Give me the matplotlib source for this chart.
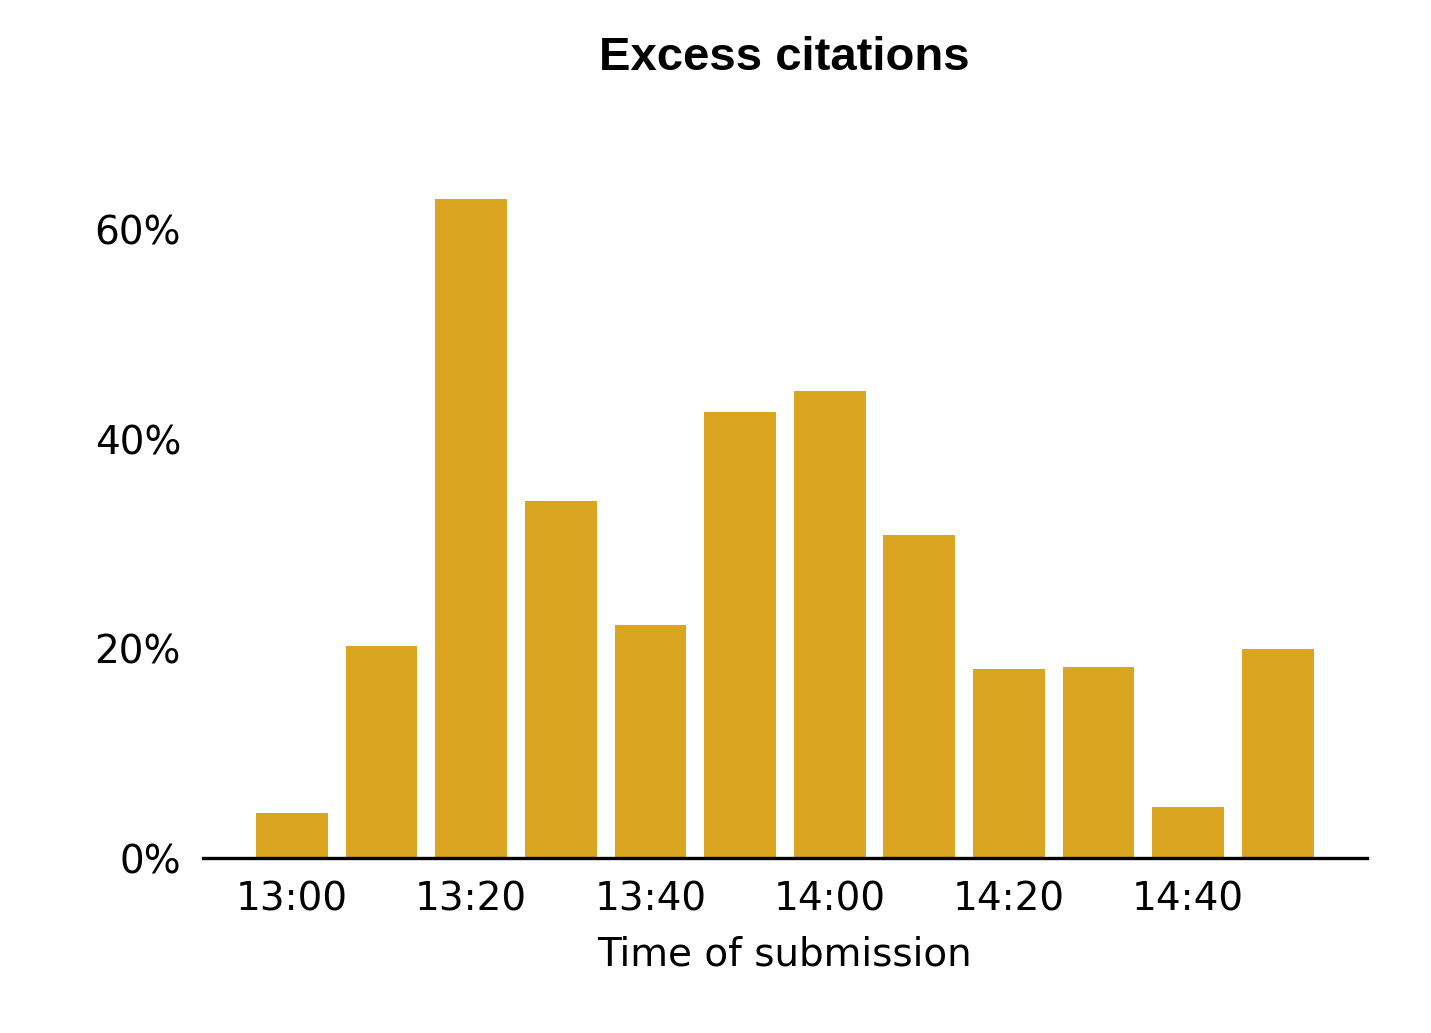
import matplotlib
matplotlib.use("Agg")
from matplotlib import pyplot as plt
from matplotlib.ticker import PercentFormatter

# excess citations per 10-minute submission slot
slots = ["13:00", "13:10", "13:20", "13:30", "13:40", "13:50",
         "14:00", "14:10", "14:20", "14:30", "14:40", "14:50"]
excess = [4.3, 20.3, 62.9, 34.1, 22.3, 42.6, 44.6, 30.9, 18.1, 18.3, 4.9, 20.0]
tick_labels = ["13:00", "13:20", "13:40", "14:00", "14:20", "14:40"]

fig = plt.figure(figsize=(7.155, 5.165), dpi=200)
ax = fig.add_axes([0.142, 0.169, 0.813, 0.69])

pos = list(range(len(slots)))
ax.bar(pos, excess, width=0.8, color="#DAA520")

ax.set_xlim(-0.99, 11.99)
ax.set_ylim(0, 68)
ax.set_yticks([0, 20, 40, 60])
ax.yaxis.set_major_formatter(PercentFormatter(decimals=0))
ax.set_xticks([slots.index(t) for t in tick_labels])
ax.set_xticklabels(tick_labels)
ax.tick_params(length=0, labelsize=14, pad=8)

for s in ["top", "right", "left"]:
    ax.spines[s].set_visible(False)
ax.spines["bottom"].set_linewidth(1.2)

ax.set_xlabel("Time of submission", fontsize=14, labelpad=6)
fig.suptitle("Excess citations", x=0.548, y=0.965, fontsize=17,
             fontweight="heavy", family="Liberation Sans")

fig.savefig("out.png", dpi=200)
